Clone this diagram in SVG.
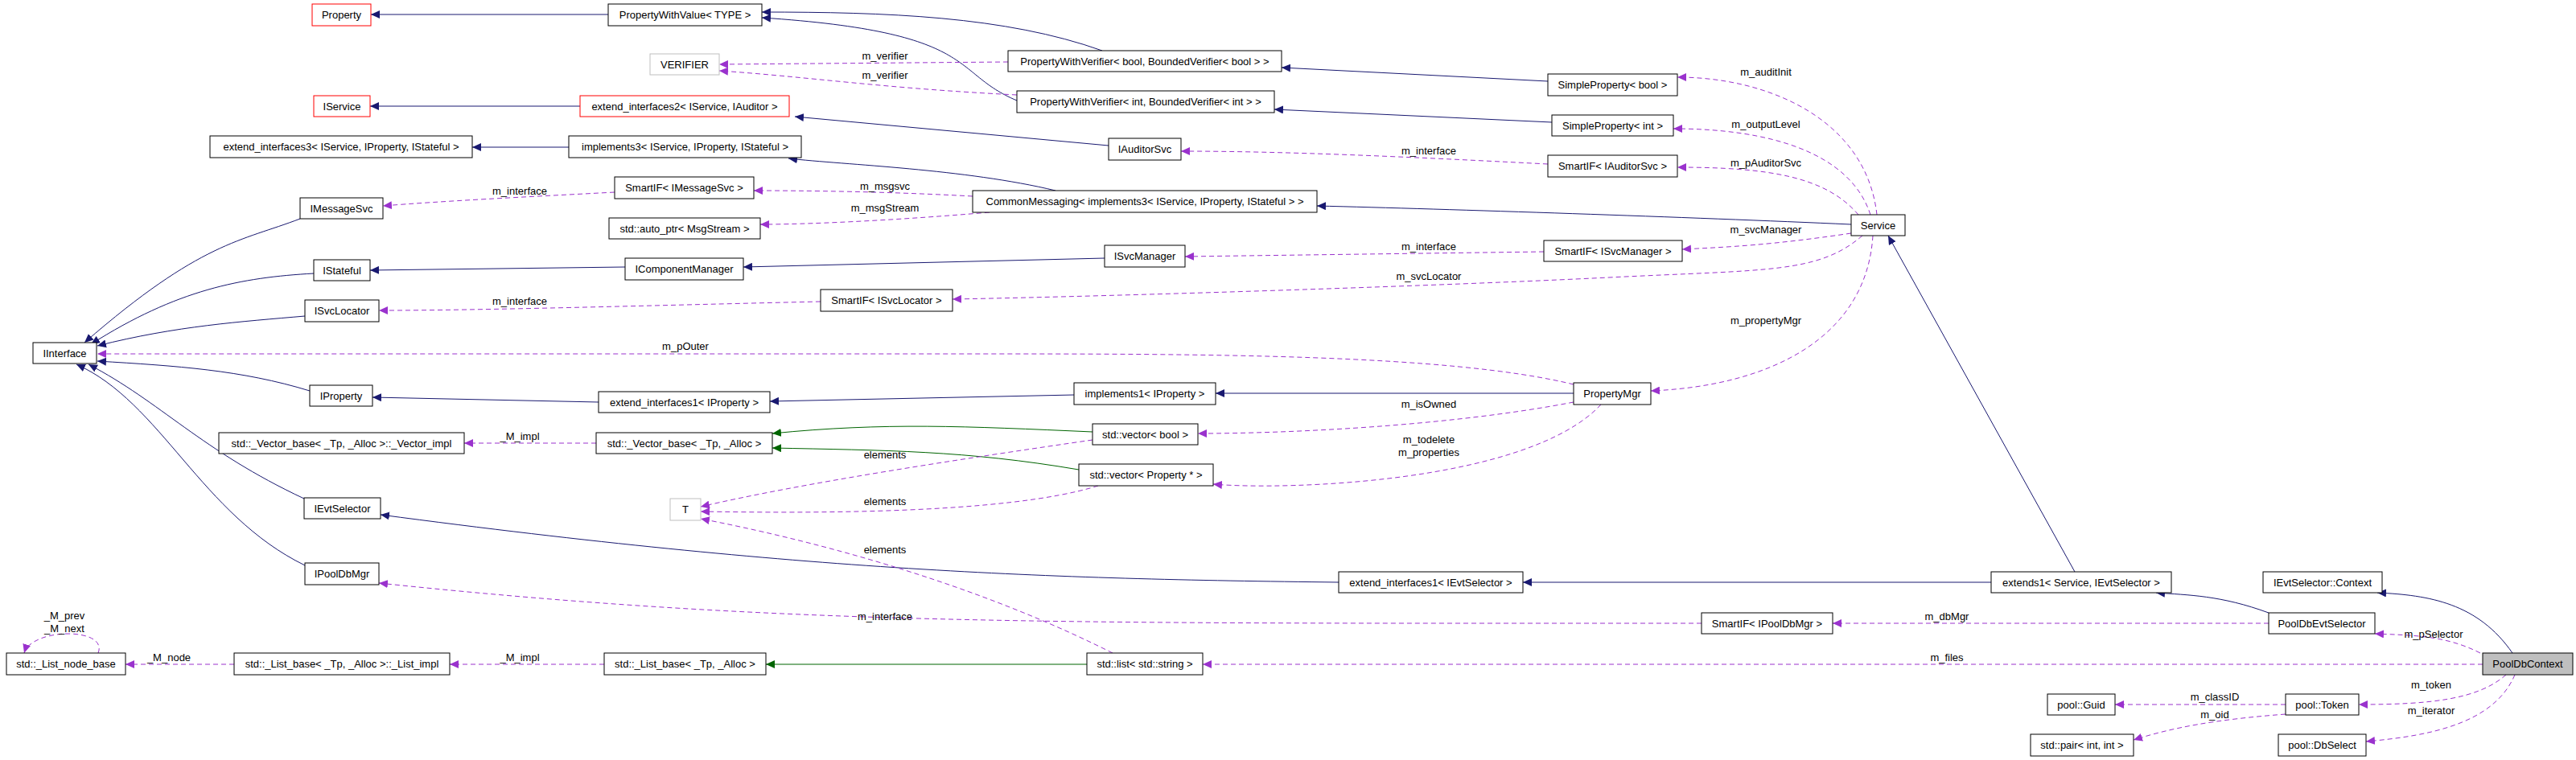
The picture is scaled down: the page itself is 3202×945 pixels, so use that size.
<svg xmlns="http://www.w3.org/2000/svg" width="3202" height="945" viewBox="0 0 3202 945">
<style>
text{font-family:"Liberation Sans",Arial,sans-serif;font-size:13px;fill:#000}
.n rect{fill:#fff;stroke:#000;stroke-width:1}
.n text{text-anchor:middle}
.red rect{stroke:#ff0000}
.gray rect{stroke:#bfbfbf}
.cur rect{fill:#bfbfbf}
.inh{fill:none;stroke:#191970;stroke-width:1}
.tpl{fill:none;stroke:#006400;stroke-width:1}
.use{fill:none;stroke:#9a32cd;stroke-width:1;stroke-dasharray:6,4}
.lb{text-anchor:middle}
</style>
<defs>
<marker id="an" markerUnits="userSpaceOnUse" markerWidth="12" markerHeight="10" refX="11" refY="5" orient="auto"><path d="M0,0L11,5L0,10z" fill="#191970"/></marker>
<marker id="ag" markerUnits="userSpaceOnUse" markerWidth="12" markerHeight="10" refX="11" refY="5" orient="auto"><path d="M0,0L11,5L0,10z" fill="#006400"/></marker>
<marker id="ap" markerUnits="userSpaceOnUse" markerWidth="12" markerHeight="10" refX="11" refY="5" orient="auto"><path d="M0,0L11,5L0,10z" fill="#9a32cd"/></marker>
</defs>
<g id="edges">
<g marker-end="url(#an)">
<path class="inh" d="M756,18L461,18"/>
<path class="inh" d="M1370,63C1250,20 1100,15 947,15"/>
<path class="inh" d="M1264,125C1180,90 1220,40 947,22"/>
<path class="inh" d="M1924,101L1593,84"/>
<path class="inh" d="M1929,152L1584,136"/>
<path class="inh" d="M721,132L460,132"/>
<path class="inh" d="M1378,181L988,145"/>
<path class="inh" d="M707,183L587,183"/>
<path class="inh" d="M1312,237C1200,210 1050,205 980,197"/>
<path class="inh" d="M2301,279C2100,270 1800,260 1637,256"/>
<path class="inh" d="M777,332L460,336"/>
<path class="inh" d="M1373,321L924,332"/>
<path class="inh" d="M373,272C300,300 250,300 105,426"/>
<path class="inh" d="M390,340C300,345 220,360 113,428"/>
<path class="inh" d="M379,393C300,400 220,405 121,430"/>
<path class="inh" d="M385,486C300,460 220,455 121,449"/>
<path class="inh" d="M378,620C250,560 200,500 110,453"/>
<path class="inh" d="M379,703C250,640 200,500 95,453"/>
<path class="inh" d="M744,500L463,494"/>
<path class="inh" d="M1335,491L957,499"/>
<path class="inh" d="M1956,489L1511,489"/>
<path class="inh" d="M1664,724C1300,720 1000,710 473,640"/>
<path class="inh" d="M2475,724L1893,724"/>
<path class="inh" d="M2579,711L2347,293"/>
<path class="inh" d="M2820,762C2760,740 2720,740 2680,737"/>
<path class="inh" d="M3123,812C3080,750 3020,740 2955,737"/>
</g>
<g marker-end="url(#ag)">
<path class="tpl" d="M1358,537C1200,530 1100,525 960,539"/>
<path class="tpl" d="M1341,584C1200,560 1100,560 960,557"/>
<path class="tpl" d="M1351,826L952,826"/>
</g>
<g marker-end="url(#ap)">
<path class="use" d="M1253,77L894,80"/>
<path class="use" d="M1264,118C1100,110 1000,95 894,88"/>
<path class="use" d="M2333,267C2320,150 2200,96 2085,96"/>
<path class="use" d="M2325,267C2300,190 2200,160 2080,160"/>
<path class="use" d="M2310,267C2270,220 2200,208 2085,208"/>
<path class="use" d="M1924,204C1750,195 1600,188 1468,188"/>
<path class="use" d="M2301,290C2200,305 2150,307 2091,310"/>
<path class="use" d="M1919,313L1473,319"/>
<path class="use" d="M2315,293C2260,340 2200,335 2000,345C1800,355 1400,368 1184,372"/>
<path class="use" d="M1020,375C800,380 600,386 471,386"/>
<path class="use" d="M1209,244C1100,238 1000,237 937,237"/>
<path class="use" d="M1230,264C1100,275 1000,279 945,279"/>
<path class="use" d="M764,239C650,245 550,250 476,256"/>
<path class="use" d="M1956,478C1800,440 1500,440 1200,440L121,440"/>
<path class="use" d="M2328,293C2320,420 2200,480 2052,486"/>
<path class="use" d="M1956,500C1800,530 1600,539 1489,539"/>
<path class="use" d="M1990,503C1900,600 1600,610 1508,602"/>
<path class="use" d="M1358,547C1200,570 1000,600 871,630"/>
<path class="use" d="M1365,604C1250,640 1000,638 871,636"/>
<path class="use" d="M1383,812C1200,720 1000,670 871,645"/>
<path class="use" d="M741,551L577,551"/>
<path class="use" d="M751,826L559,826"/>
<path class="use" d="M291,826L156,826"/>
<path class="use" d="M122,812C135,780 40,780 30,812"/>
<path class="use" d="M2115,775L1800,775C1200,775 900,770 471,725"/>
<path class="use" d="M2820,775L2278,775"/>
<path class="use" d="M3086,826L1495,826"/>
<path class="use" d="M3083,812C3040,790 3000,790 2952,788"/>
<path class="use" d="M3115,839C3080,870 3020,876 2932,876"/>
<path class="use" d="M3126,839C3100,900 3020,915 2941,922"/>
<path class="use" d="M2841,876L2629,876"/>
<path class="use" d="M2841,888C2750,895 2700,905 2652,920"/>
</g>
</g>
<g id="labels">
<text class="lb" x="1100" y="74">m_verifier</text>
<text class="lb" x="1100" y="98">m_verifier</text>
<text class="lb" x="2195" y="94">m_auditInit</text>
<text class="lb" x="2195" y="159">m_outputLevel</text>
<text class="lb" x="2195" y="207">m_pAuditorSvc</text>
<text class="lb" x="1776" y="192">m_interface</text>
<text class="lb" x="2195" y="290">m_svcManager</text>
<text class="lb" x="1776" y="311">m_interface</text>
<text class="lb" x="1776" y="348">m_svcLocator</text>
<text class="lb" x="646" y="379">m_interface</text>
<text class="lb" x="1100" y="236">m_msgsvc</text>
<text class="lb" x="1100" y="263">m_msgStream</text>
<text class="lb" x="646" y="242">m_interface</text>
<text class="lb" x="852" y="435">m_pOuter</text>
<text class="lb" x="2195" y="403">m_propertyMgr</text>
<text class="lb" x="1776" y="507">m_isOwned</text>
<text class="lb" x="1776" y="551">m_todelete</text>
<text class="lb" x="1776" y="567">m_properties</text>
<text class="lb" x="1100" y="570">elements</text>
<text class="lb" x="1100" y="628">elements</text>
<text class="lb" x="1100" y="688">elements</text>
<text class="lb" x="646" y="547">_M_impl</text>
<text class="lb" x="646" y="822">_M_impl</text>
<text class="lb" x="210" y="822">_M_node</text>
<text class="lb" x="80" y="770">_M_prev</text>
<text class="lb" x="80" y="786">_M_next</text>
<text class="lb" x="1100" y="771">m_interface</text>
<text class="lb" x="2420" y="771">m_dbMgr</text>
<text class="lb" x="2420" y="822">m_files</text>
<text class="lb" x="3025" y="793">m_pSelector</text>
<text class="lb" x="3022" y="856">m_token</text>
<text class="lb" x="3022" y="888">m_iterator</text>
<text class="lb" x="2753" y="871">m_classID</text>
<text class="lb" x="2753" y="893">m_oid</text>
</g>
<g id="Property" class="n red"><rect x="388" y="5" width="73" height="27"/><text x="424.5" y="23">Property</text></g>
<g id="PropertyWithValue" class="n"><rect x="756" y="5" width="191" height="27"/><text x="851.5" y="23">PropertyWithValue&lt; TYPE &gt;</text></g>
<g id="VERIFIER" class="n gray"><rect x="808" y="67" width="86" height="26"/><text x="851" y="85">VERIFIER</text></g>
<g id="IService" class="n red"><rect x="390" y="119" width="70" height="26"/><text x="425" y="137">IService</text></g>
<g id="extend_interfaces2" class="n red"><rect x="721" y="119" width="260" height="26"/><text x="851" y="137">extend_interfaces2&lt; IService, IAuditor &gt;</text></g>
<g id="extend_interfaces3" class="n"><rect x="261" y="169" width="326" height="27"/><text x="424" y="187">extend_interfaces3&lt; IService, IProperty, IStateful &gt;</text></g>
<g id="implements3" class="n"><rect x="707" y="169" width="289" height="27"/><text x="851.5" y="187">implements3&lt; IService, IProperty, IStateful &gt;</text></g>
<g id="SmartIF_IMessageSvc" class="n"><rect x="764" y="220" width="173" height="27"/><text x="850.5" y="238">SmartIF&lt; IMessageSvc &gt;</text></g>
<g id="IMessageSvc" class="n"><rect x="373" y="246" width="103" height="26"/><text x="424.5" y="264">IMessageSvc</text></g>
<g id="auto_ptr" class="n"><rect x="757" y="271" width="188" height="26"/><text x="851" y="289">std::auto_ptr&lt; MsgStream &gt;</text></g>
<g id="IStateful" class="n"><rect x="390" y="323" width="70" height="26"/><text x="425" y="341">IStateful</text></g>
<g id="IComponentManager" class="n"><rect x="777" y="321" width="147" height="27"/><text x="850.5" y="339">IComponentManager</text></g>
<g id="ISvcLocator" class="n"><rect x="379" y="373" width="92" height="27"/><text x="425" y="391">ISvcLocator</text></g>
<g id="IInterface" class="n"><rect x="41" y="426" width="79" height="26"/><text x="80.5" y="444">IInterface</text></g>
<g id="PWVbool" class="n"><rect x="1253" y="63" width="340" height="26"/><text x="1423" y="81">PropertyWithVerifier&lt; bool, BoundedVerifier&lt; bool &gt; &gt;</text></g>
<g id="PWVint" class="n"><rect x="1264" y="113" width="320" height="27"/><text x="1424" y="131">PropertyWithVerifier&lt; int, BoundedVerifier&lt; int &gt; &gt;</text></g>
<g id="IAuditorSvc" class="n"><rect x="1378" y="172" width="90" height="27"/><text x="1423" y="190">IAuditorSvc</text></g>
<g id="CommonMessaging" class="n"><rect x="1209" y="237" width="428" height="27"/><text x="1423" y="255">CommonMessaging&lt; implements3&lt; IService, IProperty, IStateful &gt; &gt;</text></g>
<g id="ISvcManager" class="n"><rect x="1373" y="305" width="100" height="27"/><text x="1423" y="323">ISvcManager</text></g>
<g id="SmartIF_ISvcLocator" class="n"><rect x="1020" y="360" width="164" height="27"/><text x="1102" y="378">SmartIF&lt; ISvcLocator &gt;</text></g>
<g id="SimplePropertyBool" class="n"><rect x="1924" y="92" width="161" height="27"/><text x="2004.5" y="110">SimpleProperty&lt; bool &gt;</text></g>
<g id="SimplePropertyInt" class="n"><rect x="1929" y="143" width="151" height="26"/><text x="2004.5" y="161">SimpleProperty&lt; int &gt;</text></g>
<g id="SmartIF_IAuditorSvc" class="n"><rect x="1924" y="193" width="161" height="27"/><text x="2004.5" y="211">SmartIF&lt; IAuditorSvc &gt;</text></g>
<g id="SmartIF_ISvcManager" class="n"><rect x="1919" y="299" width="172" height="26"/><text x="2005" y="317">SmartIF&lt; ISvcManager &gt;</text></g>
<g id="Service" class="n"><rect x="2301" y="267" width="67" height="26"/><text x="2334.5" y="285">Service</text></g>
<g id="IProperty" class="n"><rect x="385" y="479" width="78" height="26"/><text x="424" y="497">IProperty</text></g>
<g id="extend_interfaces1_IProperty" class="n"><rect x="744" y="487" width="213" height="26"/><text x="850.5" y="505">extend_interfaces1&lt; IProperty &gt;</text></g>
<g id="Vector_impl" class="n"><rect x="272" y="538" width="305" height="26"/><text x="424.5" y="556">std::_Vector_base&lt; _Tp, _Alloc &gt;::_Vector_impl</text></g>
<g id="Vector_base" class="n"><rect x="741" y="538" width="219" height="26"/><text x="850.5" y="556">std::_Vector_base&lt; _Tp, _Alloc &gt;</text></g>
<g id="IEvtSelector" class="n"><rect x="378" y="619" width="95" height="26"/><text x="425.5" y="637">IEvtSelector</text></g>
<g id="T" class="n gray"><rect x="833" y="620" width="38" height="27"/><text x="852" y="638">T</text></g>
<g id="IPoolDbMgr" class="n"><rect x="379" y="700" width="92" height="27"/><text x="425" y="718">IPoolDbMgr</text></g>
<g id="List_node_base" class="n"><rect x="8" y="812" width="148" height="27"/><text x="82" y="830">std::_List_node_base</text></g>
<g id="List_impl" class="n"><rect x="291" y="812" width="268" height="27"/><text x="425" y="830">std::_List_base&lt; _Tp, _Alloc &gt;::_List_impl</text></g>
<g id="List_base" class="n"><rect x="751" y="812" width="201" height="27"/><text x="851.5" y="830">std::_List_base&lt; _Tp, _Alloc &gt;</text></g>
<g id="implements1_IProperty" class="n"><rect x="1335" y="476" width="176" height="27"/><text x="1423" y="494">implements1&lt; IProperty &gt;</text></g>
<g id="PropertyMgr" class="n"><rect x="1956" y="476" width="96" height="27"/><text x="2004" y="494">PropertyMgr</text></g>
<g id="vector_bool" class="n"><rect x="1358" y="527" width="131" height="26"/><text x="1423.5" y="545">std::vector&lt; bool &gt;</text></g>
<g id="vector_Property" class="n"><rect x="1341" y="577" width="167" height="27"/><text x="1424.5" y="595">std::vector&lt; Property * &gt;</text></g>
<g id="extend_interfaces1_IEvtSelector" class="n"><rect x="1664" y="711" width="229" height="26"/><text x="1778.5" y="729">extend_interfaces1&lt; IEvtSelector &gt;</text></g>
<g id="list_string" class="n"><rect x="1351" y="812" width="144" height="27"/><text x="1423" y="830">std::list&lt; std::string &gt;</text></g>
<g id="extends1" class="n"><rect x="2475" y="711" width="224" height="26"/><text x="2587" y="729">extends1&lt; Service, IEvtSelector &gt;</text></g>
<g id="Context" class="n"><rect x="2813" y="711" width="148" height="26"/><text x="2887" y="729">IEvtSelector::Context</text></g>
<g id="SmartIF_IPoolDbMgr" class="n"><rect x="2115" y="762" width="163" height="26"/><text x="2196.5" y="780">SmartIF&lt; IPoolDbMgr &gt;</text></g>
<g id="PoolDbEvtSelector" class="n"><rect x="2820" y="762" width="132" height="26"/><text x="2886" y="780">PoolDbEvtSelector</text></g>
<g id="PoolDbContext" class="n cur"><rect x="3086" y="812" width="112" height="27"/><text x="3142" y="830">PoolDbContext</text></g>
<g id="Guid" class="n"><rect x="2545" y="863" width="84" height="26"/><text x="2587" y="881">pool::Guid</text></g>
<g id="Token" class="n"><rect x="2841" y="863" width="91" height="26"/><text x="2886.5" y="881">pool::Token</text></g>
<g id="pair" class="n"><rect x="2524" y="913" width="128" height="27"/><text x="2588" y="931">std::pair&lt; int, int &gt;</text></g>
<g id="DbSelect" class="n"><rect x="2832" y="913" width="109" height="27"/><text x="2886.5" y="931">pool::DbSelect</text></g>
</svg>
